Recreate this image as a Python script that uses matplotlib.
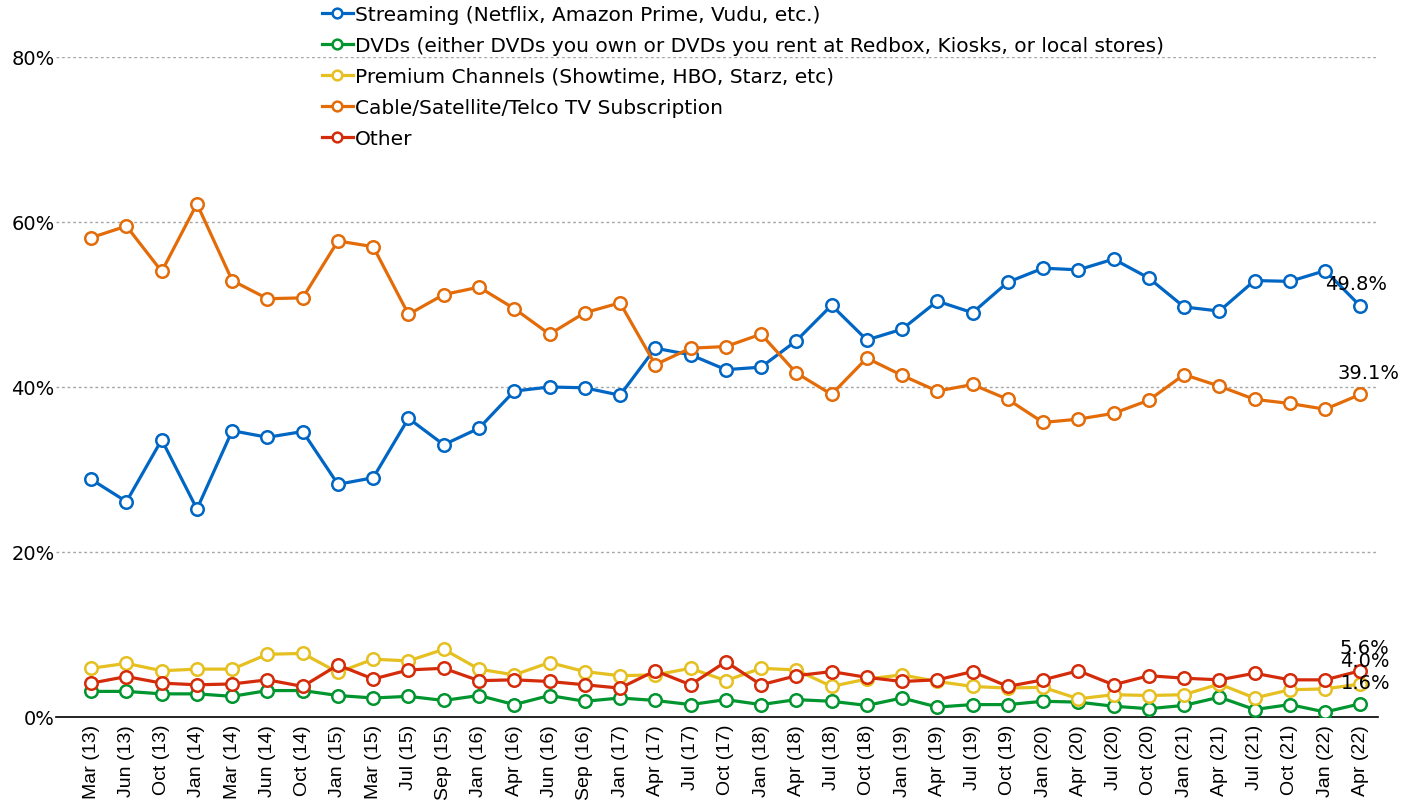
import matplotlib.pyplot as plt
from matplotlib.ticker import FuncFormatter

plt.rcParams["font.family"] = ["DejaVu Sans"]

# survey waves
periods = [
    "Mar (13)", "Jun (13)", "Oct (13)", "Jan (14)", "Mar (14)", "Jun (14)",
    "Oct (14)", "Jan (15)", "Mar (15)", "Jul (15)", "Sep (15)", "Jan (16)",
    "Apr (16)", "Jun (16)", "Sep (16)", "Jan (17)", "Apr (17)", "Jul (17)",
    "Oct (17)", "Jan (18)", "Apr (18)", "Jul (18)", "Oct (18)", "Jan (19)",
    "Apr (19)", "Jul (19)", "Oct (19)", "Jan (20)", "Apr (20)", "Jul (20)",
    "Oct (20)", "Jan (21)", "Apr (21)", "Jul (21)", "Oct (21)", "Jan (22)",
    "Apr (22)",
]

streaming = [
    28.8, 26.1, 33.6, 25.2, 34.7, 33.9, 34.6, 28.2, 29.0, 36.2, 33.0, 35.0,
    39.5, 40.0, 39.9, 39.0, 44.7, 43.9, 42.1, 42.4, 45.6, 49.9, 45.7, 47.0,
    50.4, 49.0, 52.7, 54.4, 54.2, 55.5, 53.2, 49.7, 49.2, 52.9, 52.8, 54.1,
    49.8,
]
dvds = [
    3.1, 3.1, 2.8, 2.8, 2.5, 3.2, 3.2, 2.6, 2.3, 2.5, 2.0, 2.6,
    1.5, 2.6, 1.9, 2.3, 2.0, 1.5, 2.1, 1.5, 2.1, 1.9, 1.4, 2.3,
    1.2, 1.5, 1.5, 1.9, 1.8, 1.3, 1.0, 1.4, 2.4, 0.9, 1.5, 0.6,
    1.6,
]
premium = [
    5.9, 6.5, 5.6, 5.8, 5.8, 7.6, 7.7, 5.4, 7.0, 6.8, 8.2, 5.8,
    5.1, 6.6, 5.5, 5.0, 5.1, 5.9, 4.4, 5.9, 5.7, 3.7, 4.6, 5.1,
    4.3, 3.7, 3.5, 3.6, 2.2, 2.7, 2.6, 2.7, 4.0, 2.3, 3.3, 3.4,
    4.0,
]
cable = [
    58.1, 59.5, 54.0, 62.2, 52.9, 50.7, 50.8, 57.7, 57.0, 48.8, 51.2, 52.1,
    49.5, 46.4, 49.0, 50.2, 42.7, 44.7, 44.9, 46.4, 41.7, 39.1, 43.5, 41.4,
    39.5, 40.3, 38.5, 35.7, 36.1, 36.8, 38.4, 41.5, 40.1, 38.5, 38.0, 37.3,
    39.1,
]
other = [
    4.1, 4.9, 4.1, 3.9, 4.0, 4.5, 3.7, 6.3, 4.6, 5.7, 5.9, 4.4,
    4.5, 4.3, 3.9, 3.5, 5.6, 3.9, 6.7, 3.9, 5.0, 5.5, 4.8, 4.3,
    4.5, 5.5, 3.7, 4.5, 5.6, 3.9, 5.0, 4.7, 4.5, 5.3, 4.5, 4.5,
    5.6,
]

series = [
    ("Streaming (Netflix, Amazon Prime, Vudu, etc.)", streaming, "#0066c4"),
    ("DVDs (either DVDs you own or DVDs you rent at Redbox, Kiosks, or local stores)", dvds, "#00952f"),
    ("Premium Channels (Showtime, HBO, Starz, etc)", premium, "#e5c020"),
    ("Cable/Satellite/Telco TV Subscription", cable, "#e36c09"),
    ("Other", other, "#d42c0a"),
]

fig = plt.figure(figsize=(14.09, 8.03), dpi=100)
ax = fig.add_axes([0.0397, 0.1059, 0.9383, 0.8219])

x = list(range(len(periods)))
handles = []
for name, vals, col in series:
    (h,) = ax.plot(
        x, vals, color=col, lw=2.3, marker="o", markersize=9,
        markerfacecolor="white", markeredgecolor=col, markeredgewidth=1.8,
        label=name, zorder=3,
    )
    handles.append(h)

# end-point labels (they overlap a bit in the original too)
offsets = [(-3, 16), (4, 15), (3, 17), (6, 16), (3, 17)]
for (name, vals, col), off in zip(series, offsets):
    ax.annotate(
        f"{vals[-1]:.1f}%", (x[-1], vals[-1]), xytext=off,
        textcoords="offset points", ha="center", va="center", fontsize=14,
        zorder=5,
    )

ax.set_xlim(-1, len(periods) - 0.5)
ax.set_ylim(0, 80)
ax.set_yticks([0, 20, 40, 60, 80])
ax.yaxis.set_major_formatter(FuncFormatter(lambda v, p: f"{v:.0f}%"))
ax.set_xticks(x)
ax.set_xticklabels(periods, rotation=90, fontsize=14, family="Liberation Sans")
ax.tick_params(axis="y", length=0, pad=1, labelsize=14)
ax.tick_params(axis="x", length=0, pad=5)

for v in [20, 40, 60, 80]:
    ax.axhline(v, color="#a6a6a6", lw=1, ls=(0, (2, 2)), zorder=1)

for s in ["top", "right", "left"]:
    ax.spines[s].set_visible(False)
ax.spines["bottom"].set_color("black")
ax.spines["bottom"].set_linewidth(1.2)

leg = fig.legend(
    handles=handles, loc="upper left", bbox_to_anchor=(0.2225, 1.003),
    frameon=False, fontsize=14.5, handlelength=1.55, handletextpad=0.1,
    labelspacing=0.6, borderaxespad=0,
)
for lh in leg.legend_handles:
    lh.set_markersize(7)

fig.savefig("out.png", dpi=100)
